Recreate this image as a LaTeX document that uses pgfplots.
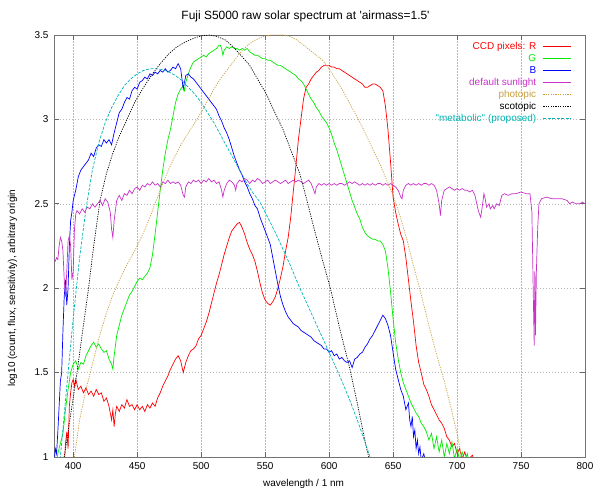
\documentclass[border=0pt]{standalone}
\usepackage{fontspec}
\setmainfont{Liberation Sans}
\usepackage{pgfplots}
\pgfplotsset{compat=1.18}

\definecolor{ccdR}{rgb}{1,0,0}
\definecolor{ccdG}{RGB}{0,235,0}
\definecolor{ccdB}{RGB}{0,0,255}
\definecolor{sunl}{RGB}{200,50,200}
\definecolor{photo}{RGB}{200,160,64}
\definecolor{scoto}{RGB}{0,0,0}
\definecolor{metab}{RGB}{0,180,180}

\begin{document}
\begin{tikzpicture}
\begin{axis}[
    name=ax,
    at={(0,0)}, anchor=south west,
    scale only axis,
    width=531bp, height=422bp,
    xmin=385, xmax=800,
    ymin=1, ymax=3.5,
    xtick={400,450,...,800},
    ytick={1,1.5,2,2.5,3,3.5},
    /pgf/number format/assume math mode=true,
    tick label style={font=\fontsize{10}{12}\selectfont},
    xticklabel style={yshift=-2bp},
    yticklabel style={xshift=-2bp},
    axis line style={black!55, line width=0.9bp},
    major tick style={black!60, line width=0.6bp},
    major tick length=5bp,
    grid=major,
    major grid style={gray!55, line width=0.5bp, dash pattern=on 1.5bp off 1.5bp},
    title={Fuji S5000 raw solar spectrum at \textquotesingle airmass=1.5\textquotesingle},
    title style={font=\fontsize{12}{14}\selectfont, at={(axis description cs:0.5,1)}, xshift=-14bp, yshift=4bp, anchor=south},
    xlabel={wavelength / 1 nm},
    xlabel style={font=\fontsize{10}{12}\selectfont, at={(axis description cs:0.5,0)}, anchor=center, yshift=-27bp, xshift=-16bp},
    ylabel={log10 (count, flux, sensitivity), arbitrary origin},
    ylabel style={font=\fontsize{10}{12}\selectfont, at={(axis description cs:-0.078,0.40)}, anchor=center},
    legend plot pos=right,
    legend cell align=right,
    legend image code/.code={\path (0bp,0bp); \draw[#1] (6bp,0bp) -- (34bp,0bp);},
    legend style={at={(1,1)}, anchor=north east, xshift=-10bp, yshift=-3bp,
        draw=none, fill=none, font=\fontsize{10}{10}\selectfont,
        nodes={inner sep=0.9bp, text height=8.2bp, text depth=2bp}, row sep=0bp},
    every axis plot/.append style={line width=0.7bp},
]
% R
\addplot[ccdR] coordinates {
(393,0.95)(394,1.08)(395,1.15)(396,1.05)(397,1.30)(398,1.38)(399,1.44)(400,1.46)(401,1.42)(402,1.46)(404,1.40)(406,1.42)(408,1.38)(410,1.41)(412,1.37)(414,1.39)(416,1.36)(418,1.40)(420,1.37)(422,1.38)(424,1.33)(426,1.35)(428,1.30)(429,1.26)(430,1.22)(431,1.28)(432,1.18)(433,1.26)(434,1.30)(436,1.27)(438,1.31)(440,1.29)(442,1.34)(444,1.30)(446,1.31)(448,1.28)(450,1.31)(452,1.28)(454,1.30)(456,1.27)(458,1.31)(460,1.29)(462,1.32)(464,1.30)(466,1.35)(468,1.38)(470,1.42)(472,1.45)(474,1.48)(476,1.52)(478,1.55)(480,1.58)(482,1.60)(484,1.57)(486,1.50)(488,1.56)(490,1.60)(492,1.63)(494,1.64)(496,1.66)(498,1.70)(500,1.72)(502,1.76)(504,1.80)(506,1.85)(508,1.91)(510,1.97)(512,2.03)(514,2.08)(516,2.14)(518,2.20)(520,2.25)(522,2.30)(524,2.34)(526,2.36)(528,2.38)(530,2.39)(532,2.36)(534,2.32)(536,2.27)(538,2.23)(540,2.20)(542,2.16)(544,2.10)(546,2.03)(548,1.97)(550,1.93)(552,1.91)(554,1.90)(556,1.92)(558,1.95)(560,2.00)(562,2.06)(564,2.13)(566,2.22)(568,2.30)(570,2.42)(572,2.57)(574,2.72)(576,2.88)(578,3.00)(580,3.12)(582,3.19)(584,3.21)(586,3.24)(588,3.26)(590,3.28)(592,3.29)(594,3.31)(596,3.32)(598,3.32)(600,3.32)(602,3.31)(604,3.31)(606,3.30)(608,3.30)(610,3.29)(612,3.28)(614,3.27)(616,3.26)(618,3.25)(620,3.24)(622,3.23)(624,3.22)(626,3.21)(628,3.19)(630,3.19)(632,3.20)(634,3.21)(636,3.21)(638,3.20)(640,3.19)(642,3.17)(644,3.08)(646,2.94)(648,2.75)(650,2.54)(652,2.45)(654,2.38)(656,2.32)(658,2.28)(660,2.18)(662,2.05)(664,1.92)(666,1.80)(668,1.66)(670,1.56)(672,1.50)(674,1.43)(676,1.40)(678,1.36)(680,1.31)(682,1.28)(684,1.25)(686,1.22)(688,1.20)(690,1.17)(692,1.12)(694,1.10)(696,1.06)(698,1.08)(700,1.02)(702,1.05)(704,0.99)(706,1.03)(708,0.98)(712,1.01)(714,0.97)
};
\addlegendentry{\textcolor{ccdR}{CCD pixels: R}}
% G
\addplot[ccdG] coordinates {
(386,0.95)(388,1.02)(390,1.08)(392,1.14)(394,1.28)(396,1.40)(398,1.50)(400,1.55)(402,1.57)(404,1.52)(406,1.56)(408,1.55)(410,1.60)(412,1.63)(414,1.66)(416,1.68)(418,1.65)(420,1.67)(422,1.64)(424,1.62)(426,1.63)(428,1.58)(430,1.55)(431,1.52)(432,1.60)(434,1.72)(436,1.78)(438,1.84)(440,1.88)(442,1.92)(444,1.96)(446,1.98)(448,2.01)(450,2.04)(452,2.06)(454,2.05)(456,2.07)(458,2.09)(460,2.12)(462,2.20)(464,2.32)(466,2.45)(468,2.58)(470,2.70)(472,2.80)(474,2.88)(476,2.94)(478,3.02)(480,3.10)(482,3.15)(484,3.18)(486,3.20)(487,3.17)(488,3.22)(490,3.27)(492,3.31)(494,3.34)(496,3.35)(498,3.36)(500,3.37)(502,3.38)(504,3.37)(506,3.39)(508,3.40)(510,3.41)(512,3.42)(514,3.44)(515,3.44)(516,3.42)(517,3.38)(518,3.41)(520,3.43)(522,3.42)(524,3.43)(526,3.42)(528,3.42)(530,3.41)(532,3.42)(534,3.41)(536,3.42)(538,3.40)(540,3.39)(542,3.38)(544,3.38)(546,3.37)(548,3.36)(550,3.36)(552,3.35)(554,3.35)(556,3.34)(558,3.33)(560,3.32)(562,3.32)(564,3.31)(566,3.30)(568,3.29)(570,3.28)(572,3.27)(574,3.26)(576,3.24)(578,3.23)(580,3.21)(582,3.18)(584,3.15)(586,3.12)(588,3.10)(590,3.07)(592,3.05)(594,3.02)(596,3.00)(598,2.98)(600,2.95)(602,2.91)(604,2.86)(606,2.82)(608,2.77)(610,2.72)(612,2.67)(614,2.62)(616,2.57)(618,2.52)(620,2.48)(622,2.44)(624,2.41)(626,2.36)(628,2.33)(630,2.31)(632,2.30)(634,2.29)(636,2.29)(638,2.28)(640,2.28)(642,2.26)(644,2.22)(646,2.12)(648,1.98)(650,1.82)(652,1.68)(654,1.58)(656,1.50)(658,1.44)(660,1.40)(662,1.36)(664,1.32)(666,1.29)(668,1.26)(670,1.24)(672,1.20)(674,1.18)(676,1.15)(678,1.10)(680,1.14)(682,1.05)(684,1.12)(686,1.03)(688,1.10)(690,1.00)(692,1.08)(694,1.02)(696,1.09)(698,0.99)(700,1.05)(702,0.98)(704,1.03)(706,0.97)(708,1.02)(710,0.95)
};
\addlegendentry{\textcolor{ccdG}{G}}
% B
\addplot[ccdB] coordinates {
(385,0.95)(386,1.05)(387,1.02)(388,1.15)(389,1.30)(390,1.45)(391,1.50)(392,1.75)(393,1.95)(394,2.05)(395,1.90)(396,2.00)(397,2.25)(398,2.40)(399,2.45)(400,2.52)(402,2.58)(404,2.66)(406,2.70)(408,2.72)(410,2.74)(412,2.76)(414,2.80)(416,2.78)(418,2.83)(420,2.85)(422,2.84)(424,2.88)(426,2.86)(428,2.88)(430,2.85)(432,2.92)(434,2.98)(436,3.04)(438,3.06)(440,3.10)(442,3.13)(444,3.12)(446,3.17)(448,3.19)(450,3.18)(452,3.22)(454,3.23)(456,3.25)(458,3.24)(460,3.27)(462,3.26)(464,3.28)(466,3.27)(468,3.29)(470,3.28)(472,3.30)(474,3.28)(476,3.29)(478,3.31)(480,3.30)(482,3.33)(484,3.30)(485,3.24)(486,3.18)(487,3.22)(488,3.26)(490,3.27)(492,3.25)(494,3.24)(496,3.22)(498,3.20)(500,3.18)(502,3.16)(504,3.14)(506,3.12)(508,3.10)(510,3.08)(512,3.06)(514,3.02)(516,2.99)(518,2.95)(520,2.92)(522,2.88)(524,2.83)(526,2.78)(528,2.74)(530,2.70)(532,2.67)(534,2.63)(536,2.60)(538,2.56)(540,2.53)(542,2.49)(544,2.47)(546,2.42)(548,2.38)(550,2.34)(552,2.30)(554,2.26)(556,2.18)(558,2.10)(560,2.02)(562,1.95)(564,1.90)(566,1.86)(568,1.83)(570,1.81)(572,1.79)(574,1.78)(576,1.77)(578,1.75)(580,1.74)(582,1.73)(584,1.72)(586,1.71)(588,1.69)(590,1.68)(592,1.67)(594,1.66)(596,1.64)(598,1.64)(600,1.62)(602,1.63)(604,1.60)(606,1.61)(608,1.58)(610,1.59)(612,1.57)(614,1.56)(616,1.57)(618,1.53)(620,1.58)(622,1.59)(624,1.61)(626,1.62)(628,1.65)(630,1.67)(632,1.70)(634,1.72)(636,1.75)(638,1.78)(640,1.81)(642,1.84)(644,1.82)(646,1.78)(648,1.72)(650,1.62)(652,1.52)(654,1.46)(656,1.40)(658,1.36)(660,1.28)(662,1.32)(663,1.22)(664,1.18)(665,1.24)(666,1.12)(667,1.16)(668,1.05)(669,1.10)(670,1.02)(671,1.06)(672,0.98)(674,1.02)(676,0.95)
};
\addlegendentry{\textcolor{ccdB}{B}}
% sunlight
\addplot[sunl] coordinates {
(385,2.17)(386,2.16)(387,2.18)(388,2.17)(389,2.25)(390,2.30)(391,2.28)(392,2.22)(393,2.05)(394,1.95)(395,2.10)(396,2.28)(397,2.31)(398,2.25)(399,2.05)(400,2.10)(401,2.35)(402,2.44)(403,2.46)(405,2.44)(407,2.47)(409,2.45)(411,2.48)(413,2.47)(415,2.50)(417,2.48)(419,2.50)(421,2.52)(423,2.49)(425,2.53)(427,2.51)(429,2.45)(430,2.35)(431,2.30)(432,2.40)(434,2.52)(436,2.55)(438,2.52)(440,2.56)(442,2.55)(444,2.58)(446,2.56)(448,2.59)(450,2.60)(452,2.58)(454,2.61)(456,2.60)(458,2.62)(460,2.61)(462,2.63)(464,2.61)(466,2.62)(468,2.60)(470,2.63)(472,2.62)(474,2.64)(476,2.62)(478,2.63)(480,2.62)(482,2.63)(484,2.61)(486,2.55)(487,2.54)(488,2.60)(490,2.63)(492,2.62)(494,2.64)(496,2.63)(498,2.64)(500,2.62)(502,2.64)(504,2.63)(506,2.65)(508,2.63)(510,2.64)(512,2.62)(514,2.63)(516,2.58)(517,2.54)(518,2.58)(520,2.62)(522,2.64)(524,2.63)(526,2.61)(527,2.58)(528,2.62)(530,2.64)(532,2.63)(534,2.65)(536,2.64)(538,2.62)(540,2.64)(542,2.63)(544,2.65)(546,2.64)(548,2.62)(550,2.63)(552,2.64)(554,2.62)(556,2.63)(558,2.64)(560,2.63)(562,2.62)(564,2.63)(566,2.64)(568,2.62)(570,2.63)(572,2.64)(574,2.63)(576,2.64)(578,2.63)(580,2.62)(582,2.63)(584,2.64)(586,2.62)(588,2.58)(589,2.56)(590,2.60)(592,2.62)(594,2.61)(596,2.62)(598,2.61)(600,2.62)(602,2.61)(604,2.62)(606,2.61)(608,2.62)(610,2.62)(612,2.61)(614,2.62)(616,2.63)(618,2.62)(620,2.63)(622,2.62)(624,2.61)(626,2.62)(628,2.61)(630,2.62)(632,2.61)(634,2.62)(636,2.61)(638,2.62)(640,2.62)(642,2.61)(644,2.62)(646,2.61)(648,2.62)(650,2.61)(652,2.60)(654,2.58)(656,2.54)(657,2.53)(658,2.58)(660,2.61)(662,2.62)(664,2.61)(666,2.62)(668,2.61)(670,2.62)(672,2.61)(674,2.62)(676,2.62)(678,2.61)(680,2.62)(682,2.61)(684,2.58)(686,2.50)(687,2.43)(688,2.52)(690,2.58)(692,2.59)(694,2.60)(696,2.59)(698,2.58)(700,2.59)(702,2.58)(704,2.59)(706,2.58)(708,2.58)(710,2.57)(712,2.58)(714,2.55)(716,2.48)(717,2.45)(718.5,2.42)(720,2.50)(721,2.56)(722,2.53)(723,2.48)(725,2.50)(726,2.47)(728,2.49)(729,2.47)(731,2.50)(733,2.49)(735,2.55)(737,2.56)(740,2.55)(743,2.56)(746,2.56)(750,2.57)(754,2.56)(757,2.56)(758.5,2.45)(759.5,2.0)(760.3,1.66)(760.8,2.1)(761.3,1.72)(762,2.1)(763,2.35)(764,2.50)(766,2.53)(770,2.54)(774,2.53)(778,2.53)(782,2.53)(786,2.52)(788,2.50)(790,2.51)(793,2.50)(796,2.50)(798,2.51)(800,2.50)
};
\addlegendentry{\textcolor{sunl}{default sunlight}}
% photopic
\addplot[photo, dash pattern=on 1.2bp off 1.2bp] coordinates {
(398,0.80)(401,1.00)(405,1.22)(410,1.40)(415,1.55)(420,1.70)(425,1.83)(430,1.94)(435,2.03)(440,2.11)(445,2.18)(450,2.25)(455,2.33)(460,2.42)(465,2.52)(470,2.62)(475,2.71)(480,2.79)(485,2.86)(490,2.92)(495,2.98)(500,3.04)(505,3.11)(510,3.18)(515,3.24)(520,3.29)(525,3.34)(530,3.39)(535,3.43)(540,3.46)(545,3.48)(550,3.495)(555,3.50)(560,3.50)(565,3.50)(570,3.49)(575,3.47)(580,3.44)(585,3.41)(590,3.38)(595,3.35)(600,3.30)(605,3.24)(610,3.18)(615,3.11)(620,3.04)(625,2.97)(630,2.89)(635,2.81)(640,2.73)(645,2.64)(650,2.55)(655,2.44)(660,2.31)(665,2.16)(670,2.02)(675,1.87)(680,1.72)(685,1.58)(690,1.45)(695,1.30)(700,1.14)(704,0.98)(706,0.90)
};
\addlegendentry{\textcolor{photo}{photopic}}
% scotopic
\addplot[scoto, dash pattern=on 1.2bp off 1.2bp] coordinates {
(391,0.90)(393,1.00)(397,1.20)(403,1.50)(408,1.78)(412,2.00)(416,2.25)(421,2.52)(426,2.68)(431,2.80)(436,2.90)(442,3.00)(448,3.10)(455,3.19)(462,3.27)(468,3.33)(475,3.39)(481,3.43)(488,3.46)(494,3.48)(500,3.495)(507,3.50)(513,3.49)(519,3.47)(525,3.43)(531,3.38)(538,3.32)(544,3.24)(551,3.15)(557,3.05)(564,2.94)(570,2.82)(577,2.68)(582,2.54)(587,2.39)(594,2.19)(601,2.00)(608,1.77)(616,1.53)(622,1.32)(629,1.06)(631,1.00)(633,0.93)
};
\addlegendentry{\textcolor{scoto}{scotopic}}
% metabolic
\addplot[metab, dash pattern=on 3bp off 1.5bp] coordinates {
(388,0.88)(390,1.00)(395,1.42)(400,1.82)(405,2.18)(410,2.47)(415,2.70)(420,2.86)(425,2.98)(430,3.07)(435,3.14)(440,3.20)(445,3.24)(450,3.27)(455,3.29)(460,3.30)(465,3.30)(470,3.295)(475,3.28)(480,3.26)(485,3.23)(490,3.19)(495,3.15)(500,3.10)(505,3.04)(510,2.98)(515,2.91)(520,2.84)(525,2.77)(530,2.70)(535,2.63)(540,2.57)(546,2.51)(552,2.42)(558,2.33)(564,2.23)(570,2.13)(576,2.02)(585,1.87)(594,1.72)(603,1.57)(610,1.45)(616,1.34)(622,1.22)(628,1.09)(632,1.00)(634,0.95)
};
\addlegendentry{\textcolor{metab}{\textquotedbl metabolic\textquotedbl{} (proposed)}}
\end{axis}
\pgfresetboundingbox
\path ([xshift=-54bp,yshift=-33bp]ax.south west) rectangle ([xshift=10bp,yshift=35bp]ax.north east);
\end{tikzpicture}
\end{document}
